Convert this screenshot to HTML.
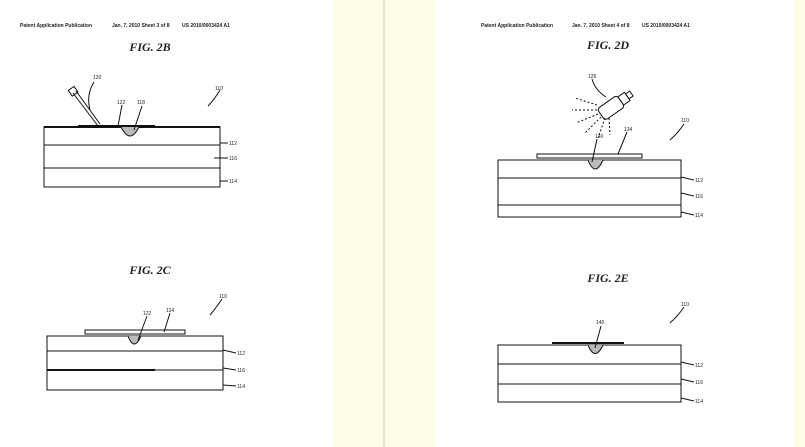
<!DOCTYPE html>
<html><head><meta charset="utf-8"><style>
html,body{margin:0;padding:0;background:#fff;}
svg{display:block}
text{font-family:"Liberation Sans",sans-serif;fill:#222}
</style></head><body>
<svg width="805" height="447" viewBox="0 0 805 447" xmlns="http://www.w3.org/2000/svg">
<rect x="0" y="0" width="805" height="447" fill="#fff"/>
<rect x="333" y="0" width="102" height="447" fill="#fefde6"/>
<rect x="383" y="0" width="2" height="447" fill="#e4e2d2"/>
<rect x="794" y="0" width="11" height="447" fill="#fefde6"/>

<g font-size="5" font-weight="bold">
<text x="20" y="27">Patent Application Publication</text>
<text x="112" y="27">Jan. 7, 2010  Sheet 3 of 8</text>
<text x="182" y="27">US 2010/0003424 A1</text>
<text x="481" y="27">Patent Application Publication</text>
<text x="572" y="27">Jan. 7, 2010  Sheet 4 of 8</text>
<text x="642" y="27">US 2010/0003424 A1</text>
</g>
<g font-family="Liberation Serif" font-style="italic" font-weight="bold" font-size="12" text-anchor="middle">
<text x="150" y="51" style="font-family:'Liberation Serif',serif">FIG. 2B</text>
<text x="150" y="274" style="font-family:'Liberation Serif',serif">FIG. 2C</text>
<text x="608" y="49" style="font-family:'Liberation Serif',serif">FIG. 2D</text>
<text x="608" y="282" style="font-family:'Liberation Serif',serif">FIG. 2E</text>
</g>

<g stroke="#111" fill="none" stroke-width="1">
<!-- 2B -->
<rect x="44" y="127" width="176" height="60"/>
<line x1="44" y1="127" x2="220" y2="127" stroke-width="2"/>
<line x1="44" y1="145" x2="220" y2="145"/>
<line x1="44" y1="168" x2="220" y2="168"/>
<path d="M78,126 L155,126" stroke-width="2"/>
<path d="M121,127 Q130,145 139,127" fill="#bbb"/>
<line x1="73" y1="93" x2="98" y2="126"/>
<line x1="76" y1="91" x2="100" y2="124"/>
<rect x="70" y="88" width="7" height="7" transform="rotate(-35 73 92)"/>
<path d="M94,82 Q86,95 90,110"/>
<path d="M122,105 L118,126"/><path d="M142,106 L134,130"/>
<path d="M220,90 Q214,100 208,106"/>
<path d="M220,143 L228,143"/><path d="M214,158 L228,158"/><path d="M220,181 L228,181"/>
<!-- 2C -->
<rect x="47" y="336" width="176" height="54"/>
<line x1="47" y1="351" x2="223" y2="351"/>
<line x1="47" y1="370" x2="155" y2="370" stroke-width="2"/>
<line x1="155" y1="370" x2="223" y2="370"/>
<rect x="85" y="330" width="100" height="4"/>
<path d="M128,336 Q134,352 141,336" fill="#bbb"/>
<path d="M147,316 L138,340"/><path d="M170,313 L164,332"/>
<path d="M222,299 Q216,308 210,315"/>
<path d="M223,350 L236,353"/><path d="M223,368 L236,370"/><path d="M223,385 L236,386"/>
<!-- 2D -->
<rect x="498" y="160" width="183" height="57"/>
<line x1="498" y1="178" x2="681" y2="178"/>
<line x1="498" y1="205" x2="681" y2="205"/>
<rect x="537" y="154" width="105" height="4"/>
<path d="M588,160 Q595,178 603,160" fill="#bbb"/>
<g transform="rotate(-35 615 105)">
<rect x="598" y="98" width="24" height="14" rx="3"/>
<rect x="622" y="100" width="8" height="10"/>
<rect x="630" y="102" width="5" height="6"/>
</g>
<g stroke-dasharray="2,2">
<path d="M597,105 L575,98"/><path d="M597,110 L572,110"/><path d="M598,114 L576,123"/>
<path d="M601,117 L585,133"/><path d="M605,118 L598,138"/><path d="M609,118 L610,135"/>
</g>
<path d="M592,79 Q595,90 606,97"/>
<path d="M597,139 L592,162"/><path d="M627,132 L618,154"/>
<path d="M684,124 Q678,133 670,140"/>
<path d="M681,177 L694,180"/><path d="M681,193 L694,196"/><path d="M681,212 L694,215"/>
<!-- 2E -->
<rect x="498" y="345" width="183" height="57"/>
<line x1="498" y1="364" x2="681" y2="364"/>
<line x1="498" y1="384" x2="681" y2="384"/>
<line x1="552" y1="343" x2="624" y2="343" stroke-width="2"/>
<path d="M588,345 Q595,362 603,345" fill="#bbb"/>
<path d="M601,326 L595,348"/>
<path d="M684,307 Q678,316 670,323"/>
<path d="M681,362 L694,365"/><path d="M681,379 L694,382"/><path d="M681,398 L694,401"/>
</g>
<g font-size="5">
<text x="93" y="79">120</text><text x="117" y="104">122</text><text x="137" y="104">118</text>
<text x="215" y="90">110</text>
<text x="229" y="145">112</text><text x="229" y="160">116</text><text x="229" y="183">114</text>
<text x="143" y="315">122</text><text x="166" y="312">124</text><text x="219" y="298">110</text>
<text x="237" y="355">112</text><text x="237" y="372">116</text><text x="237" y="388">114</text>
<text x="588" y="78">126</text><text x="595" y="138">140</text><text x="624" y="131">134</text>
<text x="681" y="122">110</text>
<text x="695" y="182">112</text><text x="695" y="198">116</text><text x="695" y="217">114</text>
<text x="596" y="324">140</text><text x="681" y="306">110</text>
<text x="695" y="367">112</text><text x="695" y="384">116</text><text x="695" y="403">114</text>
</g>
</svg>
</body></html>
